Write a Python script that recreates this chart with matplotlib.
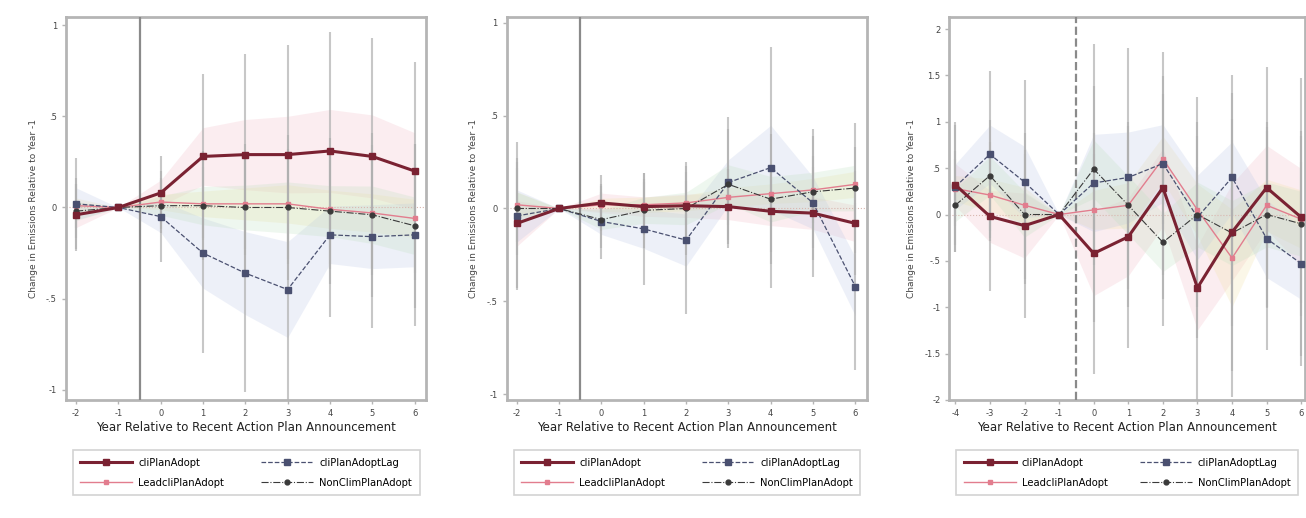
import numpy as np
import matplotlib
matplotlib.use("Agg")
import matplotlib.pyplot as plt
from matplotlib.lines import Line2D

plt.rcParams["font.family"] = "DejaVu Sans"

# ---------------------------------------------------------------------------
# data (rough)
# ---------------------------------------------------------------------------
years_short = [-2, -1, 0, 1, 2, 3, 4, 5, 6]
years_long = [-4, -3, -2, -1, 0, 1, 2, 3, 4, 5, 6]

series_names = ["cliPlanAdopt", "cliPlanAdoptLag", "LeadcliPlanAdopt", "NonClimPlanAdopt"]

# panel 1
p1_s1 = [-0.04, 0, 0.08, 0.28, 0.29, 0.29, 0.31, 0.28, 0.20]
p1_s2 = [0.01, 0, 0.03, 0.02, 0.02, 0.02, -0.01, -0.03, -0.06]
p1_s3 = [0.02, 0, -0.05, -0.25, -0.36, -0.45, -0.15, -0.16, -0.15]
p1_s4 = [-0.02, 0, 0.01, 0.01, 0.0, 0.0, -0.02, -0.04, -0.10]
p1_ci1 = [0.20, 0, 0.20, 0.45, 0.55, 0.60, 0.65, 0.65, 0.60]
p1_ci2 = [0.12, 0, 0.12, 0.20, 0.25, 0.30, 0.30, 0.30, 0.30]
p1_ci3 = [0.25, 0, 0.25, 0.55, 0.65, 0.75, 0.45, 0.50, 0.50]
p1_ci4 = [0.15, 0, 0.15, 0.30, 0.35, 0.40, 0.40, 0.45, 0.45]

# panel 2
p2_s1 = [-0.08, 0, 0.03, 0.01, 0.015, 0.01, -0.015, -0.025, -0.08]
p2_s2 = [0.02, 0, 0.02, 0.02, 0.03, 0.06, 0.08, 0.10, 0.13]
p2_s3 = [-0.04, 0, -0.07, -0.11, -0.17, 0.14, 0.22, 0.03, -0.42]
p2_s4 = [0.0, 0, -0.06, -0.01, 0.0, 0.13, 0.05, 0.09, 0.11]
p2_ci1 = [0.35, 0, 0.15, 0.15, 0.18, 0.20, 0.22, 0.25, 0.28]
p2_ci2 = [0.20, 0, 0.10, 0.12, 0.12, 0.15, 0.15, 0.18, 0.20]
p2_ci3 = [0.40, 0, 0.20, 0.30, 0.40, 0.35, 0.65, 0.40, 0.45]
p2_ci4 = [0.25, 0, 0.15, 0.20, 0.25, 0.30, 0.35, 0.30, 0.35]

# panel 3
p3_s1 = [0.32, -0.02, -0.12, 0, -0.42, -0.24, 0.29, -0.79, -0.19, 0.29, -0.03]
p3_s2 = [0.28, 0.21, 0.10, 0, 0.05, 0.10, 0.60, 0.05, -0.47, 0.10, -0.05]
p3_s3 = [0.30, 0.65, 0.35, 0, 0.34, 0.40, 0.55, -0.03, 0.40, -0.26, -0.53]
p3_s4 = [0.10, 0.42, 0.0, 0, 0.49, 0.10, -0.30, 0.0, -0.20, 0.0, -0.10]
p3_ci1 = [0.65, 0.80, 1.00, 0, 1.30, 1.20, 1.20, 1.30, 1.50, 1.30, 1.50]
p3_ci2 = [0.40, 0.50, 0.55, 0, 0.60, 0.70, 0.70, 0.80, 1.50, 0.80, 0.90]
p3_ci3 = [0.70, 0.90, 1.10, 0, 1.50, 1.40, 1.20, 1.30, 1.10, 1.20, 1.10]
p3_ci4 = [0.50, 0.60, 0.70, 0, 0.90, 0.90, 0.90, 1.00, 1.00, 1.00, 1.00]

yticks_12 = [-1, -0.5, 0, 0.5, 1]
ytlab_12 = ["-1", "-.5", "0", ".5", "1"]
yticks_3 = [-2, -1.5, -1, -0.5, 0, 0.5, 1, 1.5, 2]
ytlab_3 = ["-2", "-1.5", "-1", "-.5", "0", ".5", "1", "1.5", "2"]

xlabel = "Year Relative to Recent Action Plan Announcement"
ylabel = "Change in Emissions Relative to Year -1"

MAROON = "#7a2232"
PINK = "#e27d8e"
NAVY = "#4a5070"
DARK = "#3a3a3a"
BAND = ["#f2b8c4", "#f3e2a6", "#b9c6e6", "#bfe0c0"]
FRAME = "#b5b5b5"
GREY = "#b0b0b0"

fig = plt.figure(figsize=(13.06, 5.18), dpi=100)
positions = [
    [0.0505, 0.228, 0.276, 0.739],
    [0.388, 0.228, 0.276, 0.739],
    [0.727, 0.228, 0.272, 0.739],
]

panels = [
    (years_short, [p1_s1, p1_s2, p1_s3, p1_s4], [p1_ci1, p1_ci2, p1_ci3, p1_ci4],
     (-2.24, 6.28), (-1.055, 1.044), yticks_12, ytlab_12, "-"),
    (years_short, [p2_s1, p2_s2, p2_s3, p2_s4], [p2_ci1, p2_ci2, p2_ci3, p2_ci4],
     (-2.24, 6.28), (-1.03, 1.03), yticks_12, ytlab_12, "-"),
    (years_long, [p3_s1, p3_s2, p3_s3, p3_s4], [p3_ci1, p3_ci2, p3_ci3, p3_ci4],
     (-4.17, 6.1), (-1.99, 2.13), yticks_3, ytlab_3, "--"),
]

styles = [
    dict(color=MAROON, lw=2.2, ls="-", marker="s", ms=4.5, zorder=6),
    dict(color=PINK, lw=1.0, ls="-", marker="s", ms=3, zorder=5),
    dict(color=NAVY, lw=0.9, ls="--", marker="s", ms=4.5, zorder=5),
    dict(color=DARK, lw=0.8, ls="-.", marker="o", ms=3.5, zorder=5),
]

for pos, (xs, ys, cis, xlim, ylim, yt, ytl, vls) in zip(positions, panels):
    ax = fig.add_axes(pos)
    x = np.array(xs, dtype=float)
    for k, (y, ci) in enumerate(zip(ys, cis)):
        y = np.array(y)
        ci = np.array(ci)
        ax.fill_between(x, y - ci * 0.35, y + ci * 0.35, color=BAND[k], alpha=0.25, lw=0, zorder=1)
        ax.vlines(x, y - ci, y + ci, color=GREY, lw=1.5, alpha=0.7, zorder=2)
        ax.plot(x, y, **styles[k])
    ax.axhline(0, color="#d9b7b0", lw=0.8, ls=":", zorder=1)
    ax.axvline(-0.5, color="#8a8a8a", lw=1.6, ls=vls, zorder=3)
    ax.set_xlim(*xlim)
    ax.set_ylim(*ylim)
    ax.set_xticks(xs)
    ax.set_xticklabels([str(v) for v in xs], fontsize=6, color="#444444")
    ax.set_yticks(yt)
    ax.set_yticklabels(ytl, fontsize=6, color="#444444")
    for sp in ax.spines.values():
        sp.set_color(FRAME)
        sp.set_linewidth(2)
    ax.tick_params(colors=FRAME, length=3, width=1, labelcolor="#444444")
    ax.set_xlabel(xlabel, fontsize=8.5, color="#222222", labelpad=2)
    ax.set_ylabel(ylabel, fontsize=6.5, color="#444444", labelpad=6)

    # legend columns fill first: maroon, pink | dashed squares, dash-dot
    handles = [Line2D([], [], **{kk: vv for kk, vv in styles[i].items() if kk != "zorder"})
               for i in [0, 1, 2, 3]]
    labels = [series_names[0], series_names[2], series_names[1], series_names[3]]
    leg = ax.legend(handles, labels, ncol=2, loc="upper left", mode="expand",
                    bbox_to_anchor=(0.005, -0.118, 0.99, 0.0),
                    fontsize=7.2, frameon=True, fancybox=False, handlelength=5.2,
                    handletextpad=0.6, borderpad=0.75, labelspacing=1.0)
    leg.get_frame().set_edgecolor("#c8c8c8")
    leg.get_frame().set_linewidth(1.2)

fig.savefig("out.png", dpi=100)
